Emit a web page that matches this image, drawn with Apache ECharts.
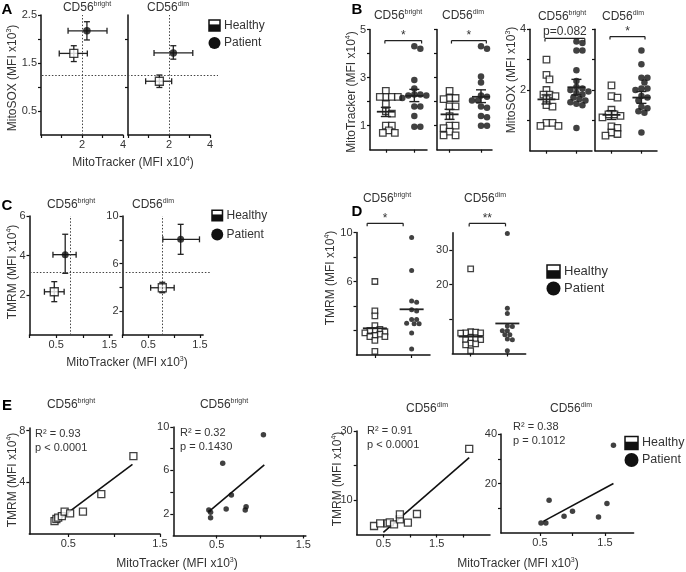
<!DOCTYPE html>
<html><head><meta charset="utf-8">
<script src="https://cdn.jsdelivr.net/npm/echarts@6/dist/echarts.min.js"></script>
<style>html,body{margin:0;padding:0;background:#fff}#c{width:686px;height:572px}</style>
</head><body><div id="c"></div><script>
// ================= DATA =================
// Panel A: [x mean, y mean, x low, x high, y low, y high]  MitoTracker (x10^4) vs MitoSOX (x10^3)
const A_brightHealthy = [1.60, 1.70, 0.89, 2.26, 1.53, 1.86];
const A_brightPatient = [2.24, 2.17, 1.32, 3.22, 1.98, 2.36];
const A_dimHealthy    = [1.53, 1.12, 0.86, 2.13, 0.99, 1.25];
const A_dimPatient    = [2.21, 1.71, 1.27, 3.16, 1.58, 1.86];
const A_refX = [2.0, 2.0];
const A_refY = 1.25;

// Panel B: individual values
const B_trackBrightHealthy = [2.45,2.2,2.2,2.2,2.2,1.9,1.6,1.5,1.0,1.0,0.8,0.7,0.7];
const B_trackBrightPatient = [4.3,4.2,2.9,2.55,2.3,2.3,2.25,2.25,2.15,1.8,1.8,1.4,0.95,0.95];
const B_trackDimHealthy    = [2.45,2.15,2.15,2.1,1.8,1.8,1.4,1.0,1.0,0.9,0.75,0.6,0.6];
const B_trackDimPatient    = [4.3,4.2,3.05,2.8,2.25,2.2,2.05,2.05,1.8,1.75,1.4,1.35,1.0,1.0];
const B_soxBrightHealthy   = [3.0,2.5,2.35,2.0,1.85,1.85,1.8,1.7,1.5,1.45,0.92,0.82,0.82,0.92];
const B_soxBrightPatient   = [3.6,3.55,3.3,3.3,2.65,2.3,2.1,2.05,2.0,1.95,1.9,1.85,1.75,1.7,1.65,1.6,1.55,1.5,0.75];
const B_soxDimHealthy      = [2.15,1.8,1.75,1.35,1.2,1.2,1.15,1.1,0.8,0.75,0.6,0.5,0.55];
const B_soxDimPatient      = [3.3,2.85,2.4,2.4,2.25,2.05,2.05,2.0,1.8,1.75,1.65,1.45,1.4,1.3,1.25,0.6];
// [mean, SEM low, SEM high] for healthy, patient
const B_trackBrightMean = [[1.58,1.38,1.76],[2.24,2.0,2.51]];
const B_trackDimMean    = [[1.47,1.26,1.68],[2.2,1.96,2.49]];
const B_soxBrightMean   = [[1.69,1.54,1.84],[2.09,1.84,2.35]];
const B_soxDimMean      = [[1.18,1.03,1.32],[1.75,1.56,1.95]];
// significance: [x start, x end, level, label]
const B_sig = [[0.47,1.63,4.54,'*'],[0.46,1.57,4.54,'*'],[0.5,1.83,3.70,'p=0.082'],[0.5,1.67,3.76,'*']];

// Panel C: [x mean, y mean, x low, x high, y low, y high]  MitoTracker (x10^3) vs TMRM (x10^4)
const C_brightHealthy = [0.465, 2.18, 0.28, 0.65, 1.68, 2.69];
const C_brightPatient = [0.67, 4.05, 0.44, 0.875, 3.11, 5.08];
const C_dimHealthy    = [0.77, 3.97, 0.545, 1.0, 3.55, 4.43];
const C_dimPatient    = [1.126, 8.04, 0.78, 1.49, 6.78, 9.3];
const C_refX = [0.76, 0.76];
const C_refY = 3.16;   // on the CD56bright scale

// Panel D: TMRM individual values
const D_brightHealthy = [6.0,3.6,3.2,2.4,2.1,2.0,2.0,1.9,1.8,1.7,1.6,1.5,1.5,1.2,0.3];
const D_brightPatient = [9.6,6.9,4.3,4.4,3.7,3.6,2.9,2.6,2.55,2.55,2.9,1.8,0.5];
const D_dimHealthy    = [24.5,6.3,6.0,6.0,5.9,6.2,4.5,4.2,4.0,4.0,3.0,2.8,2.5,0.8];
const D_dimPatient    = [34.8,13.1,11.6,8.0,7.8,6.6,6.6,5.4,5.4,4.2,4.0,0.8];
const D_means = [[2.18,3.73],[4.9,8.7]];
const D_sig = [[0.29,1.27,10.75,'*'],[0.46,1.45,37.7,'**']];

// Panel E: correlations MitoTracker (x) vs TMRM (y)
const E1_x = [0.35,0.37,0.39,0.43,0.46,0.52,0.66,0.86,1.21];
const E1_y = [1.0,1.16,1.26,1.39,1.73,1.6,1.73,3.09,6.03];
const E1_fitX = [0.355,1.2], E1_fitY = [0.9,5.39];
const E2_x = [0.41,0.43,0.43,0.57,0.61,0.67,0.83,0.84,1.04];
const E2_y = [2.35,2.14,1.64,6.67,2.45,3.74,2.35,2.66,9.28];
const E2_fitX = [0.41,1.05], E2_fitY = [2.2,6.51];
const E3_x = [0.325,0.44,0.58,0.62,0.7,0.81,0.81,0.96,1.13,2.11];
const E3_y = [2.46,3.24,3.24,3.53,2.95,4.4,5.85,3.43,5.94,24.8];
const E3_fitX = [0.5,2.11], E3_fitY = [0.63,22.3];
const E4_x = [0.515,0.59,0.64,0.87,1.0,1.4,1.53,1.63];
const E4_y = [4.05,4.05,13.2,6.75,8.8,6.5,11.9,35.5];
const E4_fitX = [0.55,1.63], E4_fitY = [4.7,20.0];
const E_stats = [['R² = 0.93','p < 0.0001'],['R² = 0.32','p = 0.1430'],['R² = 0.91','p < 0.0001'],['R² = 0.38','p = 0.1012']];

// ================= BUILD =================
const FONT = '"Liberation Sans", Arial, Helvetica, sans-serif';
const INK = '#111', TXT = '#333';
const grid = [], xAxis = [], yAxis = [], series = [], graphic = [];
const DOT = {type:[1.5,1.8], color:'#444', width:1};

function ax(i, r, ticks, labels, pos, hidden) {
  return { type:'value', gridIndex:i, min:r[0], max:r[1], position:pos, show:!hidden,
    axisLine:{show:!hidden, onZero:false, lineStyle:{color:INK, width:1.5}},
    axisTick:{show:!hidden && ticks.length>0, length:3, customValues:ticks, lineStyle:{color:INK, width:1.2}},
    axisLabel:{show:!hidden && labels.length>0, customValues:labels, fontSize:11, color:TXT, fontFamily:FONT, margin:4},
    splitLine:{show:false} };
}
function plot(p) {
  const i = grid.length;
  grid.push({left:p.l, top:p.t, width:p.w, height:p.h, containLabel:false});
  xAxis.push(ax(i, p.x, p.xt||[], p.xl||[], 'bottom', p.hidden));
  yAxis.push(ax(i, p.y, p.yt||[], p.yl||[], 'left', p.hidden));
  p.i = i; p.kx = p.w/(p.x[1]-p.x[0]); p.ky = p.h/(p.y[1]-p.y[0]);
  return p;
}
function scatter(p, data, kind, size) {
  series.push({type:'scatter', xAxisIndex:p.i, yAxisIndex:p.i, data:data, symbol: kind==='H'?'rect':'circle',
    symbolSize:size, clip:false, silent:true, z:4,
    itemStyle: kind==='H' ? {color:'#fff', borderColor:INK, borderWidth:1.3} : {color:INK}});
}
function seg(a, b, w) { return {type:'line', shape:{x1:a[0],y1:a[1],x2:b[0],y2:b[1]}, style:{stroke:'#222', lineWidth:w||1.3}}; }
function crossBars(p, items) {
  series.push({type:'custom', xAxisIndex:p.i, yAxisIndex:p.i, data:items, z:3, silent:true, clip:false,
    renderItem:function(params, api){
      const v = k => api.value(k), cap = 3;
      const a = api.coord([v(2),v(1)]), b = api.coord([v(3),v(1)]);
      const c = api.coord([v(0),v(4)]), d = api.coord([v(0),v(5)]);
      return {type:'group', children:[
        seg(a,b), seg([a[0],a[1]-cap],[a[0],a[1]+cap]), seg([b[0],b[1]-cap],[b[0],b[1]+cap]),
        seg(c,d), seg([c[0]-cap,c[1]],[c[0]+cap,c[1]]), seg([d[0]-cap,d[1]],[d[0]+cap,d[1]]) ]};
    }});
}
function meanBars(p, groups, stats, half, cap) {
  const items = stats.map((s,j) => [groups[j], s[0], s.length>1?s[1]:s[0], s.length>2?s[2]:s[0]]);
  series.push({type:'custom', xAxisIndex:p.i, yAxisIndex:p.i, data:items, z:5, silent:true, clip:false,
    renderItem:function(params, api){
      const m = api.coord([api.value(0),api.value(1)]), lo = api.coord([api.value(0),api.value(2)]), hi = api.coord([api.value(0),api.value(3)]);
      const ch = [seg([m[0]-half,m[1]],[m[0]+half,m[1]],1.8)];
      if (cap) ch.push(seg(lo,hi,1.4), seg([lo[0]-cap,lo[1]],[lo[0]+cap,lo[1]],1.4), seg([hi[0]-cap,hi[1]],[hi[0]+cap,hi[1]],1.4));
      return {type:'group', children:ch};
    }});
}
function sigBar(p, s, fs, lift) {
  series.push({type:'custom', xAxisIndex:p.i, yAxisIndex:p.i, data:[[s[0], s[2], s[1]]], z:3, silent:true, clip:false,
    renderItem:function(params, api){
      const a = api.coord([api.value(0), api.value(1)]), b = api.coord([api.value(2), api.value(1)]);
      return {type:'group', children:[seg(a,b,1.2), seg(a,[a[0],a[1]+3],1.2), seg(b,[b[0],b[1]+3],1.2),
        {type:'text', x:(a[0]+b[0])/2, y:a[1]-lift, style:{text:s[3], fontSize:fs, fontFamily:FONT, fill:TXT, align:'center', verticalAlign:'middle'}}]};
    }});
}
function refLines(p, marks) {
  series.push({type:'line', xAxisIndex:p.i, yAxisIndex:p.i, data:[], silent:true,
    markLine:{silent:true, symbol:'none', animation:false, label:{show:false}, lineStyle:DOT, data:marks}});
}
function fitLine(p, xs, ys) {
  series.push({type:'line', xAxisIndex:p.i, yAxisIndex:p.i, data:xs.map((x,k)=>[x,ys[k]]), symbol:'none',
    silent:true, z:3, lineStyle:{color:INK, width:1.6}});
}
// deterministic beeswarm layout (pixel space), returns [x, value] pairs
function swarm(p, vals, center, diam) {
  const idx = vals.map((v,i)=>i).sort((a,b)=>vals[b]-vals[a]);
  const placed = [], out = [], step = diam*0.5;
  for (const i of idx) {
    const py = vals[i]*p.ky;
    for (let k=0; k<80; k++) {
      const off = k===0 ? 0 : ((k%2)?1:-1)*Math.ceil(k/2)*step;
      if (placed.every(q => (q[0]-off)*(q[0]-off)+(q[1]-py)*(q[1]-py) >= diam*diam*0.8)) {
        placed.push([off,py]); out.push([center+off/p.kx, vals[i]]); break;
      }
    }
  }
  return out;
}
function txt(x, y, str, o) {
  o = o || {};
  const fs = o.fs||12, c = o.c||TXT;
  graphic.push({type:'text', x:x, y:y, rotation:o.rot||0, silent:true, z:10,
    style:{text:str, fontSize:fs, fontFamily:FONT, fontWeight:o.fw||'normal', fill:c,
      align:o.al||'center', verticalAlign:'middle', textAlign:o.al||'center', textVerticalAlign:'middle', lineHeight:fs+2,
      rich:{s:{fontSize:o.sfs||7, fontFamily:FONT, fill:c, verticalAlign:'top', lineHeight:8}}}});
}
function legend(x, y, sq, r, gap, fs) {
  graphic.push({type:'rect', silent:true, shape:{x:x, y:y-sq/2, width:sq, height:sq}, style:{fill:'#fff', stroke:INK, lineWidth:1.5}});
  graphic.push({type:'rect', silent:true, shape:{x:x, y:y-sq/2+sq*0.4, width:sq, height:sq*0.6}, style:{fill:INK}});
  graphic.push({type:'circle', silent:true, shape:{cx:x+sq/2, cy:y+gap, r:r}, style:{fill:INK}});
  txt(x+sq+4, y, 'Healthy', {al:'left', fs:fs});
  txt(x+sq+4, y+gap, 'Patient', {al:'left', fs:fs});
}
const toPts = (xs, ys) => xs.map((x,k)=>[x, ys[k]]);

// ---------- Panel A ----------
const A1 = plot({l:41,t:15,w:82,h:120,x:[0,4],y:[0,2.5],xt:[0,1,2,3,4],xl:[2,4],yt:[0.5,1,1.5,2,2.5],yl:[0.5,1.5,2.5]});
const A2 = plot({l:128,t:15,w:82,h:120,x:[0,4],y:[0,2.5],xt:[0,1,2,3,4],xl:[2,4],yt:[1,2],yl:[]});
const A0 = plot({l:42,t:15,w:176,h:120,x:[0,1],y:[0,2.5],hidden:true});   // overlay for the shared cut-off line
refLines(A1, [{xAxis:A_refX[0]}]);
refLines(A2, [{xAxis:A_refX[1]}]);
refLines(A0, [{yAxis:A_refY}]);
crossBars(A1, [A_brightHealthy, A_brightPatient]);
crossBars(A2, [A_dimHealthy, A_dimPatient]);
scatter(A1, [A_brightHealthy.slice(0,2)], 'H', 8);
scatter(A1, [A_brightPatient.slice(0,2)], 'P', 7.5);
scatter(A2, [A_dimHealthy.slice(0,2)], 'H', 8);
scatter(A2, [A_dimPatient.slice(0,2)], 'P', 7.5);

// ---------- Panel B ----------
const B1 = plot({l:370,t:29.5,w:57,h:120.2,x:[0,1.8],y:[0,5],xt:[0.5,1.4],yt:[1,2,3,4,5],yl:[1,3,5]});
const B2 = plot({l:437,t:29.5,w:55,h:120.2,x:[0,1.75],y:[0,5],xt:[0.4,1.4],yt:[1,2,3,4,5]});
const B3 = plot({l:530,t:29.3,w:62,h:121.4,x:[0,2.07],y:[0,4],xt:[0.55,1.55],yt:[1,2,3,4],yl:[2,4]});
const B4 = plot({l:595,t:29.3,w:62,h:121.4,x:[0,2.07],y:[0,4],xt:[0.55,1.55],yt:[1,2,3,4]});
[[B1,[0.5,1.4],B_trackBrightHealthy,B_trackBrightPatient,B_trackBrightMean],
 [B2,[0.4,1.4],B_trackDimHealthy,B_trackDimPatient,B_trackDimMean],
 [B3,[0.55,1.55],B_soxBrightHealthy,B_soxBrightPatient,B_soxBrightMean],
 [B4,[0.55,1.55],B_soxDimHealthy,B_soxDimPatient,B_soxDimMean]].forEach((b,j) => {
  scatter(b[0], swarm(b[0], b[2], b[1][0], 6), 'H', 6.5);
  scatter(b[0], swarm(b[0], b[3], b[1][1], 6), 'P', 6.5);
  meanBars(b[0], b[1], b[4], 9, 5);
  sigBar(b[0], B_sig[j], 12, B_sig[j][3]==='*'?5:7);
});

// ---------- Panel C ----------
const C1 = plot({l:29.5,t:216,w:82.6,h:119,x:[0,1.55],y:[0,6],xt:[0,0.5,1,1.5],xl:[0.5,1.5],yt:[2,4,6],yl:[2,4,6]});
const C2 = plot({l:122.5,t:216,w:80.6,h:119,x:[0,1.56],y:[0,10],xt:[0,0.5,1,1.5],xl:[0.5,1.5],yt:[2,4,6,8,10],yl:[2,6,10]});
const C0 = plot({l:30,t:216,w:180,h:119,x:[0,1],y:[0,6],hidden:true});   // overlay for the shared cut-off line
refLines(C1, [{xAxis:C_refX[0]}]);
refLines(C2, [{xAxis:C_refX[1]}]);
refLines(C0, [{yAxis:C_refY}]);
crossBars(C1, [C_brightHealthy, C_brightPatient]);
crossBars(C2, [C_dimHealthy, C_dimPatient]);
scatter(C1, [C_brightHealthy.slice(0,2)], 'H', 8);
scatter(C1, [C_brightPatient.slice(0,2)], 'P', 7);
scatter(C2, [C_dimHealthy.slice(0,2)], 'H', 8);
scatter(C2, [C_dimPatient.slice(0,2)], 'P', 7);

// ---------- Panel D ----------
const D1 = plot({l:356.5,t:232.5,w:73.5,h:122.5,x:[0,2],y:[0,10],xt:[0.5,1.5],yt:[2,4,6,8,10],yl:[6,10]});
const D2 = plot({l:452.3,t:232.7,w:73.4,h:120.8,x:[0,2],y:[0,35],xt:[0.5,1.5],yt:[10,20,30],yl:[20,30]});
scatter(D1, swarm(D1, D_brightHealthy, 0.5, 5), 'H', 5.5);
scatter(D1, swarm(D1, D_brightPatient, 1.5, 5), 'P', 5);
scatter(D2, swarm(D2, D_dimHealthy, 0.5, 5), 'H', 5.5);
scatter(D2, swarm(D2, D_dimPatient, 1.5, 5), 'P', 5);
meanBars(D1, [0.5,1.5], D_means[0].map(m=>[m]), 12, 0);
meanBars(D2, [0.5,1.5], D_means[1].map(m=>[m]), 12, 0);
sigBar(D1, D_sig[0], 12, 5);
sigBar(D2, D_sig[1], 12, 5);

// ---------- Panel E ----------
const E1 = plot({l:29.3,t:428,w:130.7,h:106,x:[0.075,1.5],y:[0,8.2],xt:[0.5,1,1.5],xl:[0.5,1.5],yt:[4,8],yl:[4,8]});
const E2 = plot({l:173.3,t:427,w:132.6,h:108.5,x:[0,1.53],y:[0,10],xt:[0.5,1,1.5],xl:[0.5,1.5],yt:[2,4,6,8,10],yl:[2,6,10]});
const E3 = plot({l:356.7,t:431,w:133.3,h:103.5,x:[0,2.5],y:[0,30],xt:[0.5,1,1.5,2],xl:[0.5,1.5],yt:[10,20,30],yl:[10,30]});
const E4 = plot({l:501,t:434,w:132.6,h:99,x:[-0.1,1.94],y:[0,40],xt:[0.5,1,1.5],xl:[0.5,1.5],yt:[10,20,30,40],yl:[20,40]});
fitLine(E1, E1_fitX, E1_fitY); scatter(E1, toPts(E1_x,E1_y), 'H', 7);
fitLine(E2, E2_fitX, E2_fitY); scatter(E2, toPts(E2_x,E2_y), 'P', 5.5);
fitLine(E3, E3_fitX, E3_fitY); scatter(E3, toPts(E3_x,E3_y), 'H', 7);
fitLine(E4, E4_fitX, E4_fitY); scatter(E4, toPts(E4_x,E4_y), 'P', 5.5);

// ---------- Texts ----------
txt(7,10,'A',{fs:15,fw:'bold',c:'#000'}); txt(357,10,'B',{fs:15,fw:'bold',c:'#000'});
txt(7,206,'C',{fs:15,fw:'bold',c:'#000'}); txt(357,212,'D',{fs:15,fw:'bold',c:'#000'});
txt(7,406,'E',{fs:15,fw:'bold',c:'#000'});
const BR = 'CD56{s|bright}', DM = 'CD56{s|dim}';
txt(87,8,BR); txt(168,8,DM);
txt(398,16,BR); txt(463,16,DM); txt(562,17,BR); txt(623,17,DM);
txt(71,205,BR); txt(153,205,DM);
txt(387,199,BR); txt(485,199,DM);
txt(71,405,BR); txt(224,405,BR); txt(427,409,DM); txt(571,409,DM);
const R90 = Math.PI/2;
txt(13,78,'MitoSOX (MFI x10{s|3})',{rot:R90});
txt(133,163,'MitoTracker (MFI x10{s|4})');
txt(352,92,'MitoTracker (MFI x10{s|4})',{rot:R90});
txt(512,80,'MitoSOX (MFI x10{s|3})',{rot:R90});
txt(13,272,'TMRM (MFI x10{s|4})',{rot:R90});
txt(127,363,'MitoTracker (MFI x10{s|3})');
txt(331,278,'TMRM (MFI x10{s|4})',{rot:R90});
txt(13,480,'TMRM (MFI x10{s|4})',{rot:R90});
txt(338,479,'TMRM (MFI x10{s|4})',{rot:R90});
txt(177,564,'MitoTracker (MFI x10{s|3})');
txt(518,564,'MitoTracker (MFI x10{s|3})');
[[35,434],[180,433],[367,431],[513,427]].forEach((s,j)=>{
  txt(s[0], s[1], E_stats[j][0], {al:'left', fs:11});
  txt(s[0], s[1]+14, E_stats[j][1], {al:'left', fs:11});
});
legend(209,25.5,11,6,17.5,12);
legend(212,215.5,10.5,6,19,12);
legend(547,271.5,13,7,17,13);
legend(625,443,13,7,17,12.5);

const chart = echarts.init(document.getElementById('c'), null, {renderer:'canvas', width:686, height:572});
chart.setOption({animation:false, backgroundColor:'#fff', grid:grid, xAxis:xAxis, yAxis:yAxis, series:series, graphic:graphic});
</script></body></html>
